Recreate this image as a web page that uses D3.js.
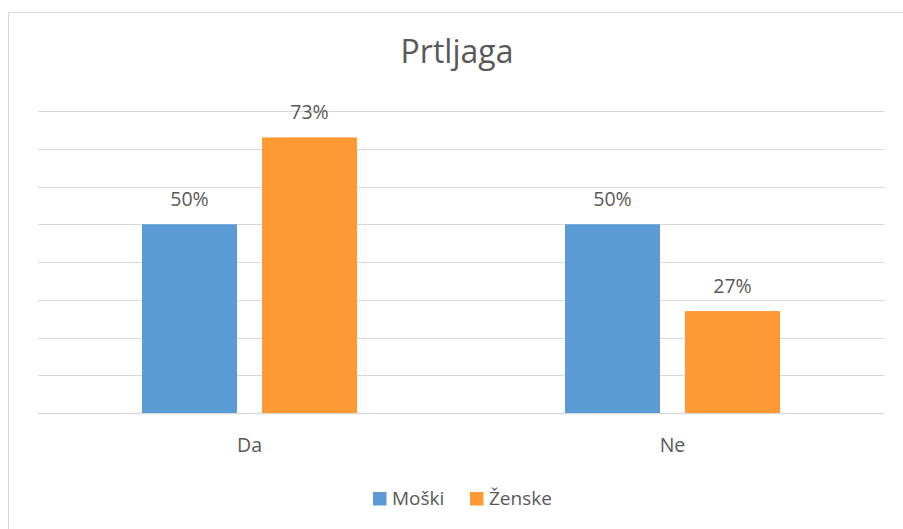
<!DOCTYPE html>
<html><head><meta charset="utf-8">
<script src="https://cdn.jsdelivr.net/npm/d3@7"></script>
<style>body{margin:0;background:#fff}svg{display:block}text{font-family:"Open Sans",sans-serif;fill:#595959}</style>
</head><body><svg id="c" width="903" height="529"></svg>
<script>
const categories = ["Da", "Ne"];
const seriesNames = ["Moški", "Ženske"];
const moski = [0.50, 0.50];
const zenske = [0.73, 0.27];
const yTicks = [0, 0.1, 0.2, 0.3, 0.4, 0.5, 0.6, 0.7, 0.8];
const colors = ["#5b9bd5", "#ff9933"];

const svg = d3.select("#c");
svg.append("rect").attr("x", 8.5).attr("y", 12.5).attr("width", 920).attr("height", 560)
  .attr("fill", "#fff").attr("stroke", "#d9d9d9").attr("stroke-width", 1);

const x0 = d3.scaleBand().domain(categories).range([38, 884]);
const x1 = d3.scaleBand().domain(seriesNames).range([0, 215]).paddingInner(25/120);
const y = d3.scaleLinear().domain([0, 0.8]).range([413, 111]);

svg.append("g").selectAll("line").data(yTicks).join("line")
  .attr("x1", 38).attr("x2", 884)
  .attr("y1", d => Math.round(y(d)) + 0.5).attr("y2", d => Math.round(y(d)) + 0.5)
  .attr("stroke", "#d9d9d9").attr("stroke-width", d => d === 0 ? 1.5 : 1);

const data = categories.map((c, i) => ({cat: c, vals: [moski[i], zenske[i]]}));
const fmt = d3.format(".0%");
const g = svg.append("g").selectAll("g").data(data).join("g")
  .attr("transform", d => `translate(${x0(d.cat) + x0.bandwidth()/2 - 107.5},0)`);
g.selectAll("rect").data(d => d.vals.map((v, j) => ({v, s: seriesNames[j], j}))).join("rect")
  .attr("x", d => x1(d.s)).attr("width", x1.bandwidth())
  .attr("y", d => y(d.v)).attr("height", d => y(0) - y(d.v))
  .attr("fill", d => colors[d.j]);
g.selectAll("text").data(d => d.vals.map((v, j) => ({v, s: seriesNames[j], j}))).join("text")
  .attr("x", d => x1(d.s) + x1.bandwidth()/2).attr("y", d => y(d.v) - 18.5)
  .attr("text-anchor", "middle").attr("font-size", 19.5).text(d => fmt(d.v));

svg.append("g").selectAll("text").data(categories).join("text")
  .attr("x", d => x0(d) + x0.bandwidth()/2).attr("y", 452)
  .attr("text-anchor", "middle").attr("font-size", 19.5).text(d => d);

svg.append("text").attr("x", 457).attr("y", 63).attr("text-anchor", "middle")
  .attr("font-size", 32).text("Prtljaga");

const legX = [373, 470];
const lg = svg.append("g").selectAll("g").data(seriesNames).join("g")
  .attr("transform", (d, i) => `translate(${legX[i]},492)`);
lg.append("rect").attr("width", 13.5).attr("height", 13.5).attr("fill", (d, i) => colors[i]);
lg.append("text").attr("x", 19).attr("y", 13.3).attr("font-size", 19).text(d => d);
</script></body></html>
